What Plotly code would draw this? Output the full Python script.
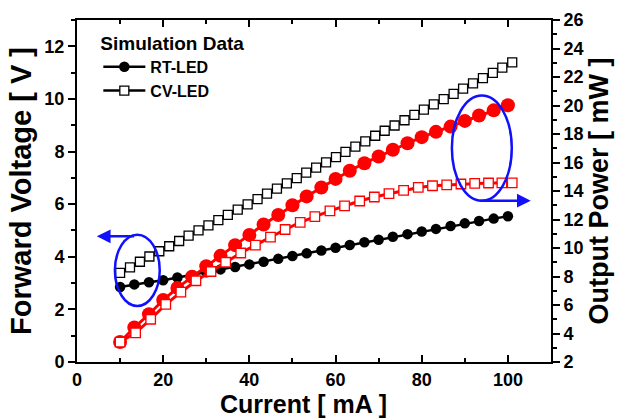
import plotly.graph_objects as go

# ---------------- data ----------------
current_rt = [10, 13.3, 16.7, 20, 23.3, 26.7, 30, 33.3, 36.7, 40, 43.3, 46.7, 50, 53.3,
              56.7, 60, 63.3, 66.7, 70, 73.3, 76.7, 80, 83.3, 86.7, 90, 93.3, 96.7, 100]
voltage_rt = [2.85, 2.95, 3.03, 3.11, 3.21, 3.30, 3.41, 3.52, 3.61, 3.71, 3.81, 3.92, 4.03, 4.13,
              4.24, 4.34, 4.45, 4.55, 4.65, 4.76, 4.86, 4.96, 5.06, 5.17, 5.27, 5.36, 5.45, 5.54]
power_rt = [3.40, 4.42, 5.35, 6.35, 7.20, 7.98, 8.72, 9.45, 10.20, 10.92, 11.65, 12.32, 13.00, 13.62,
            14.25, 14.85, 15.42, 15.95, 16.42, 16.90, 17.35, 17.78, 18.15, 18.52, 18.92, 19.30, 19.66, 20.02]

current_cv_v = [10, 12.3, 14.6, 16.8, 19.1, 21.4, 23.7, 25.9, 28.2, 30.5, 32.8, 35.0, 37.3, 39.6,
                41.9, 44.1, 46.4, 48.7, 51.0, 53.2, 55.5, 57.8, 60.1, 62.3, 64.6, 66.9, 69.2, 71.4,
                73.7, 76.0, 78.3, 80.5, 82.8, 85.1, 87.4, 89.6, 91.9, 94.2, 96.5, 98.7, 101]
voltage_cv = [3.39, 3.60, 3.81, 4.01, 4.21, 4.40, 4.60, 4.80, 5.00, 5.19, 5.39, 5.59, 5.79, 5.99,
              6.19, 6.40, 6.59, 6.79, 6.99, 7.20, 7.39, 7.59, 7.79, 7.99, 8.19, 8.39, 8.60, 8.79,
              8.99, 9.19, 9.39, 9.59, 9.79, 9.99, 10.19, 10.39, 10.59, 10.79, 10.99, 11.19, 11.39]

current_cv_p = [10, 13.6, 17.1, 20.6, 24.1, 27.6, 31.1, 34.5, 38.0, 41.4, 44.9, 48.3, 51.8, 55.2,
                58.7, 62.1, 65.6, 69.0, 72.4, 75.8, 79.2, 82.5, 85.8, 89.1, 92.3, 95.5, 98.6, 101]
power_cv = [3.40, 4.05, 5.00, 6.05, 6.90, 7.70, 8.35, 9.00, 9.65, 10.20, 10.77, 11.30, 11.80, 12.20,
            12.60, 12.95, 13.30, 13.58, 13.82, 14.05, 14.25, 14.37, 14.43, 14.49, 14.53, 14.56, 14.57, 14.57]

x_ticks = [0, 20, 40, 60, 80, 100]
left_ticks = [0, 2, 4, 6, 8, 10, 12]
right_ticks = [2, 4, 6, 8, 10, 12, 14, 16, 18, 20, 22, 24, 26]

# ---------------- figure ----------------
FONT = "Liberation Sans"
BLUE = "#1010ff"

fig = go.Figure()

fig.add_trace(go.Scatter(
    x=current_rt, y=voltage_rt, mode="lines+markers", name="RT-LED",
    line=dict(color="black", width=2.5),
    marker=dict(symbol="circle", size=10.5, color="black"),
    yaxis="y"))
fig.add_trace(go.Scatter(
    x=current_cv_v, y=voltage_cv, mode="lines+markers", name="CV-LED",
    line=dict(color="black", width=2.5),
    marker=dict(symbol="square", size=9, color="white", line=dict(color="black", width=1.3)),
    yaxis="y"))
fig.add_trace(go.Scatter(
    x=current_rt, y=power_rt, mode="lines+markers", name="RT-LED power", showlegend=False,
    line=dict(color="red", width=3),
    marker=dict(symbol="circle", size=14, color="red"),
    yaxis="y2"))
fig.add_trace(go.Scatter(
    x=current_cv_p, y=power_cv, mode="lines+markers", name="CV-LED power", showlegend=False,
    line=dict(color="red", width=3),
    marker=dict(symbol="square", size=9.5, color="white", line=dict(color="red", width=1.3)),
    yaxis="y2"))

# blue ellipses and arrows (decoration)
fig.add_shape(type="circle", xref="x", yref="y", x0=8.8, x1=19.2, y0=2.13, y1=4.84,
              line=dict(color=BLUE, width=2.5))
fig.add_shape(type="circle", xref="x", yref="y", x0=87.0, x1=100.9, y0=6.13, y1=10.13,
              line=dict(color=BLUE, width=2.5))
fig.add_annotation(x=4.6, y=4.78, ax=13.6, ay=4.78, xref="x", yref="y", axref="x", ayref="y",
                   text="", showarrow=True, arrowhead=2, arrowsize=1.1, arrowwidth=2.5,
                   arrowcolor=BLUE)
fig.add_annotation(x=105.3, y=6.13, ax=93.3, ay=6.13, xref="x", yref="y", axref="x", ayref="y",
                   text="", showarrow=True, arrowhead=2, arrowsize=1.1, arrowwidth=2.5,
                   arrowcolor=BLUE)

# x-axis title (placed slightly left of centre, as in the reference)
fig.add_annotation(text="Current [ mA ]", xref="paper", yref="paper", x=0.477, y=-0.124,
                   xanchor="center", yanchor="middle", showarrow=False,
                   font=dict(family=FONT, size=25, color="black", weight="bold"))

tickfont = dict(family=FONT, size=18, color="black", weight="bold")

fig.update_layout(
    width=621, height=419,
    margin=dict(l=77, r=70, t=20, b=57),
    paper_bgcolor="white", plot_bgcolor="white",
    showlegend=True,
    legend=dict(
        x=0.045, y=0.985, xanchor="left", yanchor="top",
        bgcolor="rgba(0,0,0,0)",
        title=dict(text="Simulation Data", font=dict(family=FONT, size=19, color="black", weight="bold")),
        font=dict(family=FONT, size=16, color="black", weight="bold"),
        itemwidth=42, tracegroupgap=0,
    ),
    xaxis=dict(
        range=[0, 110], tickvals=x_ticks, ticks="inside", ticklen=7, tickwidth=2,
        tickcolor="black", showline=True, linecolor="black", linewidth=2, mirror="ticks",
        showgrid=False, zeroline=False, tickfont=tickfont, automargin=False,
        minor=dict(tickvals=[10, 30, 50, 70, 90, 110], ticks="inside", ticklen=4, tickwidth=2, tickcolor="black"),
    ),
    yaxis=dict(
        range=[0, 13], tickvals=left_ticks, ticks="outside", ticklen=7, tickwidth=2,
        tickcolor="black", showline=True, linecolor="black", linewidth=2,
        showgrid=False, zeroline=False, tickfont=tickfont, automargin=False,
        minor=dict(tickvals=[1, 3, 5, 7, 9, 11, 13], ticks="outside", ticklen=4, tickwidth=2, tickcolor="black"),
        title=dict(text="Forward Voltage [ V ]", font=dict(family=FONT, size=29, color="black", weight="bold"), standoff=4),
    ),
    yaxis2=dict(
        range=[2, 26], tickvals=right_ticks, overlaying="y", side="right", ticks="outside",
        ticklen=7, tickwidth=2, tickcolor="black", showline=True, linecolor="black", linewidth=2,
        showgrid=False, zeroline=False, tickfont=tickfont, automargin=False,
        minor=dict(tickvals=[3, 5, 7, 9, 11, 13, 15, 17, 19, 21, 23, 25], ticks="outside", ticklen=4,
                   tickwidth=2, tickcolor="black"),
        title=dict(text="Output Power [ mW ]", font=dict(family=FONT, size=27, color="black", weight="bold"), standoff=6),
    ),
)

fig.write_html("out.html")
